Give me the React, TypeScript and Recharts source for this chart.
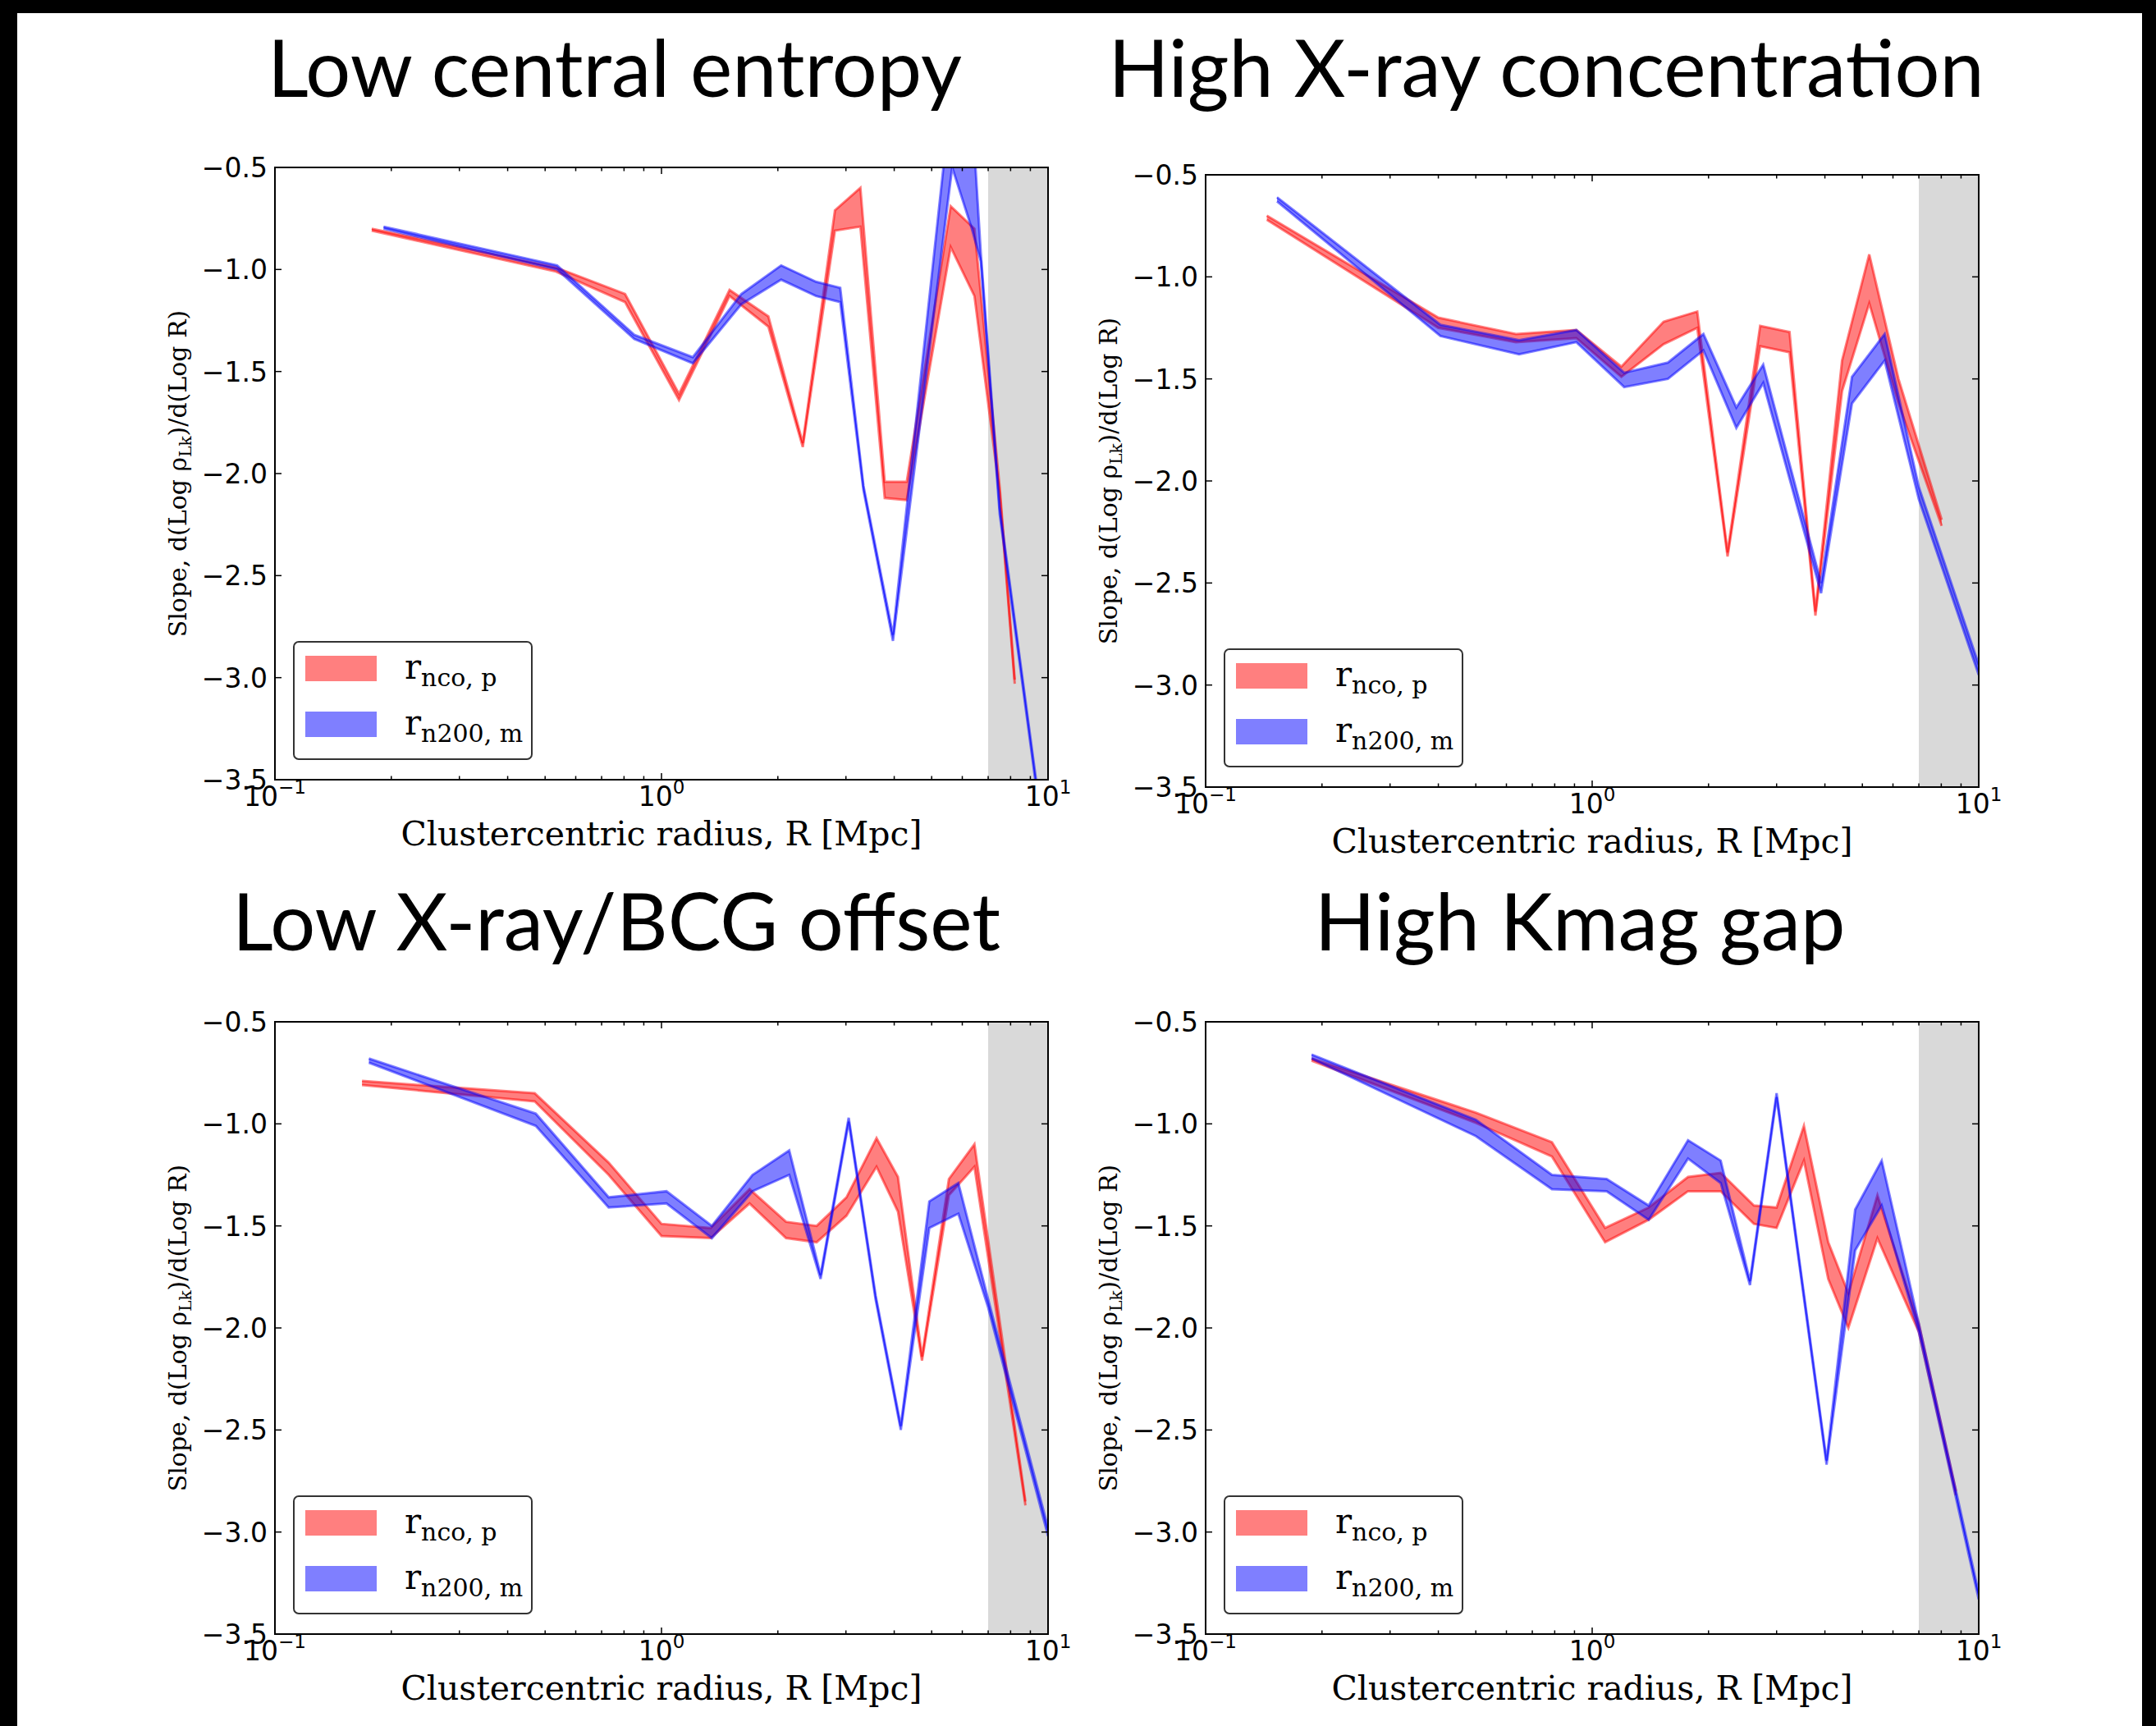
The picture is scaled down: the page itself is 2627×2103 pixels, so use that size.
import React from "react";
import { ComposedChart, Area, XAxis, YAxis, ReferenceArea, Legend } from "recharts";

// [R (Mpc), lower slope, upper slope]
type Pt = [number, number, number];

// Low central entropy
const entropyNco: Pt[] = [
  [0.178, -0.81, -0.8], [0.533, -1.01, -0.99], [0.805, -1.16, -1.12], [1.11, -1.64, -1.61],
  [1.5, -1.13, -1.1], [1.89, -1.28, -1.23], [2.32, -1.87, -1.85], [2.81, -0.81, -0.71],
  [3.27, -0.79, -0.6], [3.78, -2.12, -2.04], [4.31, -2.13, -2.04], [5.6, -0.89, -0.69],
  [6.45, -1.13, -0.8], [7.5, -2.1, -2.07], [8.2, -3.03, -3.01],
];
const entropyN200: Pt[] = [
  [0.191, -0.8, -0.79], [0.537, -1.0, -0.98], [0.85, -1.34, -1.32], [1.205, -1.46, -1.43],
  [1.61, -1.17, -1.12], [2.04, -1.05, -0.98], [2.51, -1.13, -1.06], [2.9, -1.16, -1.09],
  [3.33, -2.08, -2.06], [3.97, -2.82, -2.79], [5.65, -0.5, -0.1], [6.35, -0.8, -0.2],
  [6.7, -0.96, -0.92], [7.5, -2.2, -2.17], [10, -3.97, -3.94],
];

// High X-ray concentration
const concNco: Pt[] = [
  [0.144, -0.72, -0.7], [0.4, -1.25, -1.2], [0.635, -1.32, -1.28], [0.91, -1.3, -1.26],
  [1.19, -1.49, -1.44], [1.53, -1.33, -1.22], [1.87, -1.25, -1.17], [2.24, -2.37, -2.35],
  [2.72, -1.34, -1.24], [3.24, -1.37, -1.27], [3.78, -2.66, -2.64], [4.43, -1.56, -1.41],
  [5.21, -1.13, -0.89], [6.2, -1.62, -1.5], [8.02, -2.22, -2.19],
];
const concN200: Pt[] = [
  [0.153, -0.63, -0.61], [0.405, -1.29, -1.235], [0.647, -1.38, -1.31], [0.91, -1.32, -1.26],
  [1.21, -1.54, -1.47], [1.57, -1.5, -1.42], [1.94, -1.36, -1.28], [2.36, -1.74, -1.64],
  [2.77, -1.52, -1.43], [3.91, -2.55, -2.5], [4.7, -1.62, -1.49], [5.71, -1.41, -1.28],
  [7.0, -2.09, -2.03], [10, -2.95, -2.9],
];

// Low X-ray/BCG offset
const offsetNco: Pt[] = [
  [0.168, -0.81, -0.79], [0.47, -0.89, -0.85], [0.73, -1.25, -1.19], [1.0, -1.55, -1.49],
  [1.34, -1.56, -1.51], [1.69, -1.39, -1.32], [2.1, -1.56, -1.48], [2.52, -1.58, -1.5],
  [3.01, -1.45, -1.36], [3.6, -1.21, -1.07], [4.09, -1.43, -1.26], [4.72, -2.16, -2.14],
  [5.54, -1.35, -1.27], [6.45, -1.21, -1.1], [8.74, -2.87, -2.85],
];
const offsetN200: Pt[] = [
  [0.175, -0.7, -0.68], [0.473, -1.01, -0.95], [0.73, -1.41, -1.36], [1.03, -1.39, -1.33],
  [1.35, -1.56, -1.5], [1.72, -1.33, -1.25], [2.14, -1.25, -1.13], [2.58, -1.76, -1.74],
  [3.05, -0.99, -0.97], [3.58, -1.86, -1.84], [4.16, -2.5, -2.48], [4.93, -1.51, -1.38],
  [5.86, -1.44, -1.29], [7.0, -1.9, -1.86], [10, -3.02, -2.98],
];

// High Kmag gap
const gapNco: Pt[] = [
  [0.188, -0.69, -0.68], [0.5, -0.995, -0.945], [0.787, -1.16, -1.09], [1.08, -1.58, -1.51],
  [1.4, -1.47, -1.41], [1.77, -1.33, -1.26], [2.15, -1.33, -1.24], [2.62, -1.49, -1.4],
  [3.0, -1.51, -1.41], [3.53, -1.18, -1.01], [4.08, -1.76, -1.58], [4.6, -2.0, -1.83],
  [5.47, -1.56, -1.35], [7.0, -2.02, -1.98], [8.73, -2.82, -2.8],
];
const gapN200: Pt[] = [
  [0.188, -0.68, -0.66], [0.5, -1.06, -0.98], [0.787, -1.32, -1.25], [1.09, -1.33, -1.27],
  [1.4, -1.47, -1.4], [1.77, -1.17, -1.08], [2.15, -1.29, -1.18], [2.56, -1.79, -1.77],
  [3.0, -0.87, -0.85], [4.04, -2.67, -2.65], [4.79, -1.62, -1.42], [5.61, -1.4, -1.18],
  [7.0, -2.02, -1.98], [10, -3.33, -3.3],
];

const xTicks = [0.1, 0.2, 0.3, 0.4, 0.5, 0.6, 0.7, 0.8, 0.9, 1, 2, 3, 4, 5, 6, 7, 8, 9, 10];
const xMajor: Record<number, string> = { 0.1: "\u22121", 1: "0", 10: "1" };
const yTicks = [-3.5, -3, -2.5, -2, -1.5, -1, -0.5];

const PW = 942; // plot width
const PH = 746; // plot height
const ML = 200; // y axis width
const MT = 20;
const MR = 40;
const XH = 110; // x axis height
const CW = ML + PW + MR;
const CH = MT + PH + XH;

const panels = [
  { title: "Low central entropy", nco: entropyNco, n200: entropyN200, left: 335, top: 204, tx: 749, ty: 118 },
  { title: "High X-ray concentration", nco: concNco, n200: concN200, left: 1469, top: 213, tx: 1884, ty: 118 },
  { title: "Low X-ray/BCG offset", nco: offsetNco, n200: offsetN200, left: 335, top: 1245, tx: 751, ty: 1158 },
  { title: "High Kmag gap", nco: gapNco, n200: gapN200, left: 1469, top: 1245, tx: 1925, ty: 1158 },
];

const RED = "#ff0000";
const BLUE = "#0000ff";

function buildRows(nco: Pt[], n200: Pt[]) {
  const rows = new Map<number, any>();
  nco.forEach(([r, lo, hi]) => {
    const row = rows.get(r) ?? { r };
    row.nco = [lo, hi];
    rows.set(r, row);
  });
  n200.forEach(([r, lo, hi]) => {
    const row = rows.get(r) ?? { r };
    row.n200 = [lo, hi];
    rows.set(r, row);
  });
  return [...rows.values()].sort((a, b) => a.r - b.r);
}

const fmt = (v: number) => (v < 0 ? "\u2212" : "") + Math.abs(v).toFixed(1);

const XTick = (props: any) => {
  const { x, y, payload } = props;
  const exp = xMajor[payload.value];
  const len = exp !== undefined ? 8 : 4.5;
  return (
    <g>
      <line x1={x} x2={x} y1={y} y2={y - len} stroke="#000" strokeWidth={1.5} />
      <line x1={x} x2={x} y1={y - PH} y2={y - PH + len} stroke="#000" strokeWidth={1.5} />
      {exp !== undefined && (
        <text x={x} y={y + 32} textAnchor="middle" fontFamily="DejaVu Sans" fontSize={33} fill="#000">
          10
          <tspan dy={-15} fontSize={23}>
            {exp}
          </tspan>
        </text>
      )}
    </g>
  );
};

const YTick = (props: any) => {
  const { x, y, payload } = props;
  return (
    <g>
      <line x1={x} x2={x + 8} y1={y} y2={y} stroke="#000" strokeWidth={1.5} />
      <line x1={x + PW} x2={x + PW - 8} y1={y} y2={y} stroke="#000" strokeWidth={1.5} />
      <text x={x - 9} y={y + 12} textAnchor="end" fontFamily="DejaVu Sans" fontSize={33} fill="#000">
        {fmt(payload.value)}
      </text>
    </g>
  );
};

const XLabel = () => (
  <text x={ML + PW / 2} y={MT + PH + 80} textAnchor="middle" fontFamily="DejaVu Serif" fontSize={41} fill="#000">
    Clustercentric radius, R [Mpc]
  </text>
);

const YLabel = () => (
  <text
    transform={`translate(${ML - 108}, ${MT + PH / 2}) rotate(-90)`}
    textAnchor="middle"
    fontFamily="DejaVu Serif"
    fontSize={30}
    fill="#000"
  >
    Slope, d(Log ρ
    <tspan dy={6} fontSize={20}>
      Lk
    </tspan>
    <tspan dy={-6}>)/d(Log R)</tspan>
  </text>
);

const legendItems = [
  { fill: "rgba(255,0,0,0.5)", sub: "nco, p" },
  { fill: "rgba(0,0,255,0.5)", sub: "n200, m" },
];

const LegendBox = () => (
  <div
    style={{
      width: 292,
      height: 145,
      boxSizing: "border-box",
      border: "2px solid #333",
      borderRadius: 7,
      background: "rgba(255,255,255,0.8)",
      position: "relative",
      fontFamily: "DejaVu Serif",
      color: "#000",
    }}
  >
    {legendItems.map((it, i) => (
      <div key={i}>
        <div
          style={{ position: "absolute", left: 13, top: 16 + i * 68, width: 87, height: 31, background: it.fill }}
        />
        <div style={{ position: "absolute", left: 134, top: i * 68 + 2, fontSize: 42, lineHeight: "56px", whiteSpace: "nowrap" }}>
          r<span style={{ fontSize: 30, position: "relative", top: 9 }}>{it.sub}</span>
        </div>
      </div>
    ))}
  </div>
);

const SlopePanel = ({ p }: { p: (typeof panels)[number] }) => {
  const rows = buildRows(p.nco, p.n200);
  return (
    <div style={{ position: "absolute", left: p.left - ML, top: p.top - MT }}>
      <ComposedChart width={CW} height={CH} data={rows} margin={{ top: MT, right: MR, left: 0, bottom: 0 }}>
        <XAxis
          dataKey="r"
          type="number"
          scale="log"
          domain={[0.1, 10]}
          allowDataOverflow
          ticks={xTicks}
          interval={0}
          height={XH}
          axisLine={false}
          tickLine={false}
          tickSize={0}
          tickMargin={0}
          tick={<XTick />}
          label={() => <XLabel />}
        />
        <YAxis
          type="number"
          domain={[-3.5, -0.5]}
          allowDataOverflow
          ticks={yTicks}
          interval={0}
          width={ML}
          axisLine={false}
          tickLine={false}
          tickSize={0}
          tickMargin={0}
          tick={<YTick />}
          label={() => <YLabel />}
        />
        <ReferenceArea x1={7} x2={10} y1={-3.5} y2={-0.5} fill="#d9d9d9" fillOpacity={1} stroke="none" ifOverflow="visible" />
        <Area
          type="linear"
          dataKey="nco"
          fill={RED}
          fillOpacity={0.5}
          stroke={RED}
          strokeOpacity={0.5}
          strokeWidth={3}
          connectNulls
          dot={false}
          activeDot={false}
          isAnimationActive={false}
        />
        <Area
          type="linear"
          dataKey="n200"
          fill={BLUE}
          fillOpacity={0.5}
          stroke={BLUE}
          strokeOpacity={0.5}
          strokeWidth={3}
          connectNulls
          dot={false}
          activeDot={false}
          isAnimationActive={false}
        />
        <ReferenceArea x1={0.1} x2={10} y1={-3.5} y2={-0.5} fill="none" stroke="#000" strokeWidth={2} ifOverflow="visible" />
        <Legend
          layout="vertical"
          align="center"
          verticalAlign="middle"
          content={() => <LegendBox />}
          wrapperStyle={{ left: ML + 22, top: MT + PH - 24 - 145, width: 292, height: 145 }}
        />
      </ComposedChart>
    </div>
  );
};

export default function App() {
  return (
    <div style={{ position: "absolute", left: 0, top: 0, width: 2627, height: 2103, background: "#000", overflow: "hidden" }}>
      <div style={{ position: "absolute", left: 21, top: 16, width: 2589, height: 2087, background: "#fff" }} />
      <svg width={2627} height={2103} style={{ position: "absolute", left: 0, top: 0 }}>
        {panels.map((p) => (
          <text key={p.title} x={p.tx} y={p.ty} textAnchor="middle" fontFamily="Lato" fontSize={97} fill="#000">
            {p.title}
          </text>
        ))}
      </svg>
      {panels.map((p) => (
        <SlopePanel key={p.title} p={p} />
      ))}
    </div>
  );
}
